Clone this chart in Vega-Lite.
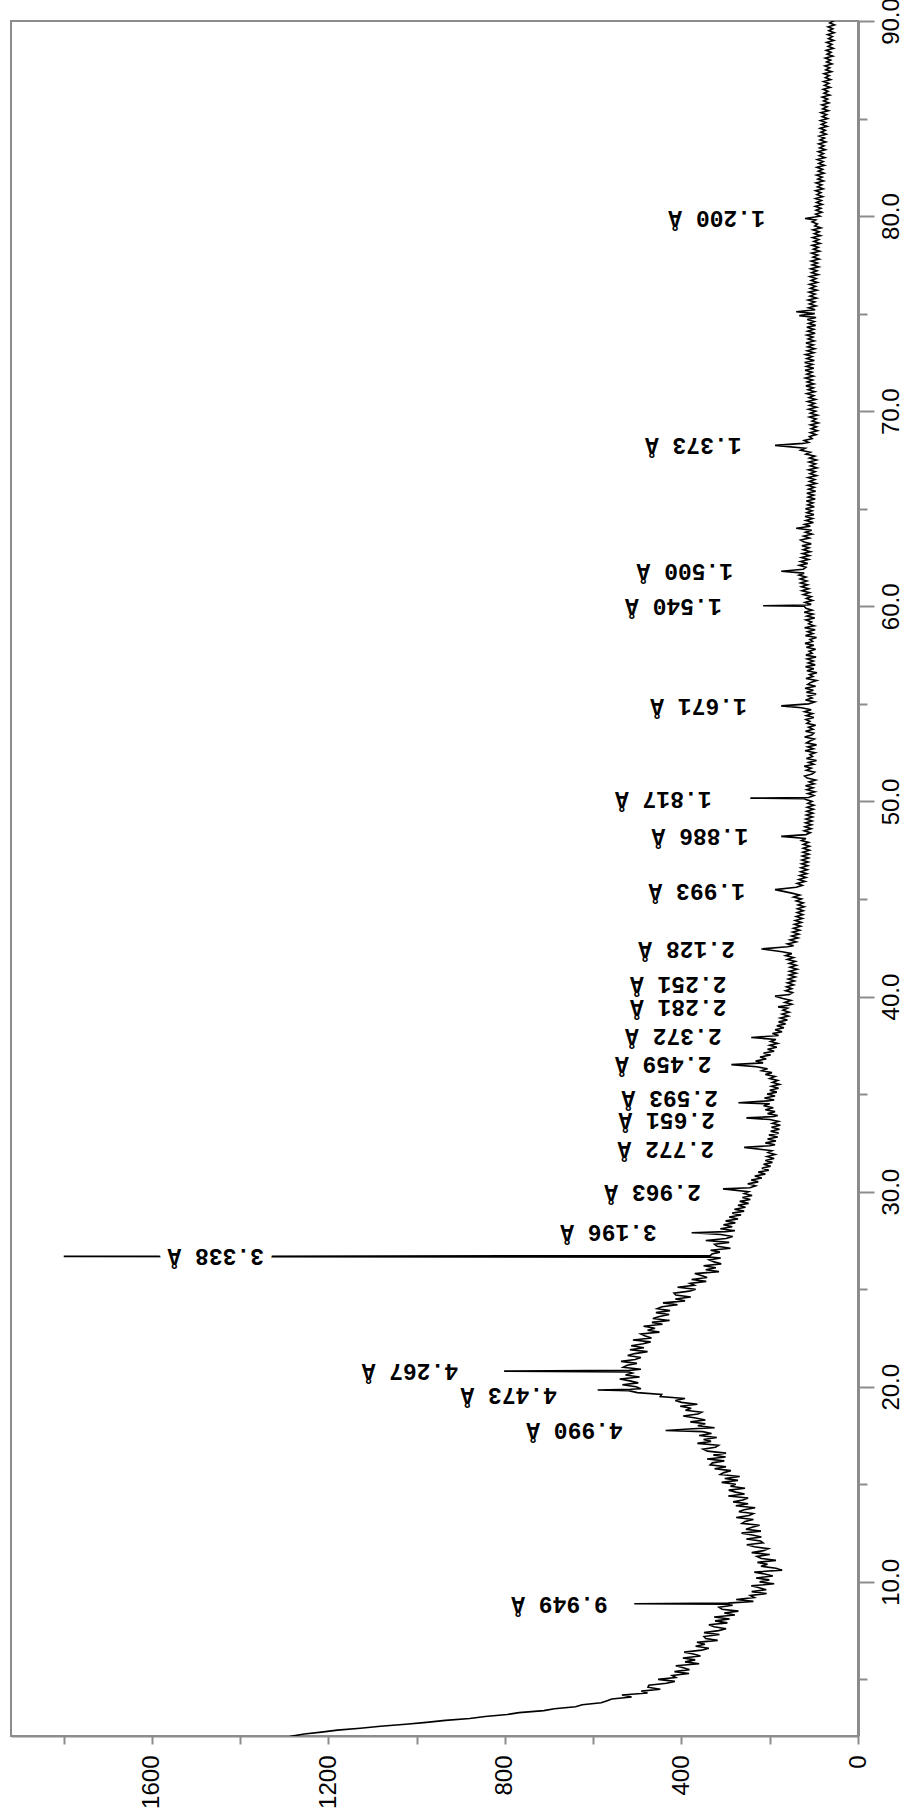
{
  "$schema": "https://vega.github.io/schema/vega-lite/v6.json",
  "width": 847,
  "height": 1715,
  "autosize": {"type": "none"},
  "padding": {"left": 11, "top": 21, "right": 53, "bottom": 78},
  "background": "white",
  "config": {
    "view": {"stroke": "#8c8c8c", "strokeWidth": 2},
    "axis": {"grid": false, "domainColor": "#8c8c8c", "tickColor": "#8c8c8c", "labelColor": "#000000", "labelFont": "Liberation Sans", "labelFontSize": 24, "title": null}
  },
  "datasets": {
    "scan": [
      {"t":2.0,"i":1300},{"t":2.1,"i":1282},{"t":2.2,"i":1255},{"t":2.3,"i":1216},{"t":2.4,"i":1180},{"t":2.5,"i":1128},{"t":2.6,"i":1082},{"t":2.7,"i":1025},{"t":2.8,"i":978},{"t":2.9,"i":935},
      {"t":3.0,"i":880},{"t":3.1,"i":845},{"t":3.2,"i":795},{"t":3.3,"i":768},{"t":3.4,"i":712},{"t":3.5,"i":688},{"t":3.6,"i":640},{"t":3.7,"i":625},{"t":3.8,"i":582},{"t":3.9,"i":570},
      {"t":4.0,"i":558},{"t":4.1,"i":513},{"t":4.2,"i":535},{"t":4.3,"i":477},{"t":4.4,"i":491},{"t":4.5,"i":448},{"t":4.6,"i":476},{"t":4.7,"i":474},{"t":4.8,"i":434},{"t":4.9,"i":415},
      {"t":5.0,"i":453},{"t":5.1,"i":413},{"t":5.2,"i":421},{"t":5.3,"i":383},{"t":5.4,"i":416},{"t":5.5,"i":382},{"t":5.6,"i":396},{"t":5.7,"i":413},{"t":5.8,"i":360},{"t":5.9,"i":392},
      {"t":6.0,"i":369},{"t":6.1,"i":397},{"t":6.2,"i":357},{"t":6.3,"i":373},{"t":6.4,"i":394},{"t":6.5,"i":354},{"t":6.6,"i":338},{"t":6.7,"i":368},{"t":6.8,"i":347},{"t":6.9,"i":365},
      {"t":7.0,"i":318},{"t":7.1,"i":345},{"t":7.2,"i":349},{"t":7.3,"i":314},{"t":7.4,"i":349},{"t":7.5,"i":316},{"t":7.6,"i":299},{"t":7.7,"i":326},{"t":7.8,"i":338},{"t":7.9,"i":296},
      {"t":8.0,"i":324},{"t":8.1,"i":291},{"t":8.2,"i":326},{"t":8.3,"i":279},{"t":8.4,"i":303},{"t":8.5,"i":271},{"t":8.6,"i":308},{"t":8.7,"i":315},{"t":8.8,"i":284},{"t":8.85,"i":300},
      {"t":8.88,"i":507},{"t":8.91,"i":295},{"t":9.0,"i":237},{"t":9.1,"i":276},{"t":9.2,"i":235},{"t":9.3,"i":244},{"t":9.4,"i":207},{"t":9.5,"i":241},{"t":9.6,"i":208},{"t":9.7,"i":224},
      {"t":9.8,"i":242},{"t":9.9,"i":190},{"t":10.0,"i":223},{"t":10.1,"i":201},{"t":10.2,"i":231},{"t":10.3,"i":193},{"t":10.4,"i":211},{"t":10.5,"i":235},{"t":10.6,"i":172},{"t":10.7,"i":186},
      {"t":10.8,"i":220},{"t":10.9,"i":205},{"t":11.0,"i":228},{"t":11.1,"i":186},{"t":11.2,"i":219},{"t":11.3,"i":229},{"t":11.4,"i":200},{"t":11.5,"i":241},{"t":11.6,"i":214},{"t":11.7,"i":203},
      {"t":11.8,"i":235},{"t":11.9,"i":252},{"t":12.0,"i":215},{"t":12.1,"i":221},{"t":12.2,"i":253},{"t":12.3,"i":219},{"t":12.4,"i":239},{"t":12.5,"i":264},{"t":12.6,"i":220},{"t":12.7,"i":254},
      {"t":12.8,"i":240},{"t":12.9,"i":223},{"t":13.0,"i":263},{"t":13.1,"i":256},{"t":13.2,"i":237},{"t":13.3,"i":276},{"t":13.4,"i":247},{"t":13.5,"i":237},{"t":13.6,"i":270},{"t":13.7,"i":258},
      {"t":13.8,"i":233},{"t":13.9,"i":277},{"t":14.0,"i":249},{"t":14.1,"i":283},{"t":14.2,"i":261},{"t":14.3,"i":249},{"t":14.4,"i":294},{"t":14.5,"i":257},{"t":14.6,"i":277},{"t":14.7,"i":293},
      {"t":14.8,"i":256},{"t":14.9,"i":289},{"t":15.0,"i":277},{"t":15.1,"i":309},{"t":15.2,"i":272},{"t":15.3,"i":302},{"t":15.4,"i":268},{"t":15.5,"i":312},{"t":15.6,"i":304},{"t":15.7,"i":288},
      {"t":15.8,"i":325},{"t":15.9,"i":299},{"t":16.0,"i":335},{"t":16.1,"i":330},{"t":16.2,"i":303},{"t":16.3,"i":342},{"t":16.4,"i":300},{"t":16.5,"i":328},{"t":16.6,"i":299},{"t":16.7,"i":341},
      {"t":16.8,"i":351},{"t":16.9,"i":323},{"t":17.0,"i":316},{"t":17.1,"i":364},{"t":17.2,"i":333},{"t":17.3,"i":350},{"t":17.4,"i":320},{"t":17.5,"i":360},{"t":17.6,"i":332},{"t":17.7,"i":352},
      {"t":17.76,"i":436},{"t":17.85,"i":374},{"t":17.9,"i":325},{"t":18.0,"i":363},{"t":18.1,"i":346},{"t":18.2,"i":380},{"t":18.3,"i":346},{"t":18.4,"i":368},{"t":18.5,"i":396},{"t":18.6,"i":363},
      {"t":18.7,"i":354},{"t":18.8,"i":391},{"t":18.9,"i":378},{"t":19.0,"i":403},{"t":19.1,"i":364},{"t":19.2,"i":400},{"t":19.3,"i":414},{"t":19.4,"i":392},{"t":19.5,"i":448},{"t":19.6,"i":445},
      {"t":19.7,"i":500},{"t":19.8,"i":520},{"t":19.83,"i":590},{"t":19.87,"i":515},{"t":19.9,"i":492},{"t":20.0,"i":503},{"t":20.1,"i":534},{"t":20.2,"i":498},{"t":20.3,"i":517},{"t":20.4,"i":540},
      {"t":20.5,"i":495},{"t":20.6,"i":527},{"t":20.7,"i":511},{"t":20.76,"i":520},{"t":20.8,"i":802},{"t":20.84,"i":518},{"t":20.9,"i":492},{"t":21.0,"i":532},{"t":21.1,"i":523},{"t":21.2,"i":501},
      {"t":21.3,"i":537},{"t":21.4,"i":505},{"t":21.5,"i":492},{"t":21.6,"i":522},{"t":21.7,"i":506},{"t":21.8,"i":477},{"t":21.9,"i":517},{"t":22.0,"i":485},{"t":22.1,"i":514},{"t":22.2,"i":487},
      {"t":22.3,"i":470},{"t":22.4,"i":510},{"t":22.5,"i":468},{"t":22.6,"i":482},{"t":22.7,"i":492},{"t":22.8,"i":450},{"t":22.9,"i":477},{"t":23.0,"i":460},{"t":23.1,"i":486},{"t":23.2,"i":443},
      {"t":23.3,"i":467},{"t":23.4,"i":427},{"t":23.5,"i":465},{"t":23.6,"i":450},{"t":23.7,"i":428},{"t":23.8,"i":458},{"t":23.9,"i":426},{"t":24.0,"i":455},{"t":24.1,"i":444},{"t":24.2,"i":409},
      {"t":24.3,"i":442},{"t":24.4,"i":392},{"t":24.5,"i":414},{"t":24.6,"i":379},{"t":24.7,"i":413},{"t":24.8,"i":417},{"t":24.9,"i":382},{"t":25.0,"i":368},{"t":25.1,"i":409},{"t":25.2,"i":371},
      {"t":25.3,"i":381},{"t":25.4,"i":344},{"t":25.5,"i":377},{"t":25.6,"i":342},{"t":25.7,"i":355},{"t":25.8,"i":370},{"t":25.9,"i":315},{"t":26.0,"i":345},{"t":26.1,"i":322},{"t":26.2,"i":350},
      {"t":26.3,"i":310},{"t":26.4,"i":326},{"t":26.5,"i":337},{"t":26.6,"i":311},{"t":26.64,"i":330},{"t":26.68,"i":1800},{"t":26.72,"i":335},{"t":26.8,"i":331},{"t":26.9,"i":313},{"t":27.0,"i":334},
      {"t":27.1,"i":289},{"t":27.2,"i":319},{"t":27.3,"i":325},{"t":27.4,"i":292},{"t":27.5,"i":345},{"t":27.6,"i":299},{"t":27.7,"i":284},{"t":27.8,"i":311},{"t":27.89,"i":377},{"t":27.95,"i":300},
      {"t":28.0,"i":279},{"t":28.1,"i":312},{"t":28.2,"i":285},{"t":28.3,"i":305},{"t":28.4,"i":278},{"t":28.5,"i":300},{"t":28.6,"i":272},{"t":28.7,"i":292},{"t":28.8,"i":265},{"t":28.9,"i":285},
      {"t":29.0,"i":258},{"t":29.1,"i":280},{"t":29.2,"i":255},{"t":29.3,"i":272},{"t":29.4,"i":248},{"t":29.5,"i":268},{"t":29.6,"i":244},{"t":29.7,"i":262},{"t":29.8,"i":240},{"t":29.9,"i":258},
      {"t":30.0,"i":248},{"t":30.14,"i":306},{"t":30.2,"i":245},{"t":30.3,"i":232},{"t":30.4,"i":250},{"t":30.5,"i":226},{"t":30.6,"i":242},{"t":30.7,"i":218},{"t":30.8,"i":234},{"t":30.9,"i":210},
      {"t":31.0,"i":226},{"t":31.1,"i":202},{"t":31.2,"i":218},{"t":31.3,"i":198},{"t":31.4,"i":214},{"t":31.5,"i":194},{"t":31.6,"i":210},{"t":31.7,"i":190},{"t":31.8,"i":206},{"t":31.9,"i":188},
      {"t":32.0,"i":204},{"t":32.1,"i":195},{"t":32.27,"i":258},{"t":32.35,"i":200},{"t":32.4,"i":188},{"t":32.5,"i":210},{"t":32.6,"i":186},{"t":32.7,"i":205},{"t":32.8,"i":182},{"t":32.9,"i":202},
      {"t":33.0,"i":180},{"t":33.1,"i":198},{"t":33.2,"i":178},{"t":33.3,"i":196},{"t":33.4,"i":176},{"t":33.5,"i":194},{"t":33.6,"i":180},{"t":33.7,"i":200},{"t":33.78,"i":253},{"t":33.85,"i":190},
      {"t":33.9,"i":182},{"t":34.0,"i":205},{"t":34.1,"i":188},{"t":34.2,"i":210},{"t":34.3,"i":192},{"t":34.4,"i":214},{"t":34.5,"i":200},{"t":34.56,"i":271},{"t":34.65,"i":205},{"t":34.7,"i":190},
      {"t":34.8,"i":212},{"t":34.9,"i":188},{"t":35.0,"i":206},{"t":35.1,"i":184},{"t":35.2,"i":200},{"t":35.3,"i":180},{"t":35.4,"i":196},{"t":35.5,"i":178},{"t":35.6,"i":194},{"t":35.7,"i":182},
      {"t":35.8,"i":200},{"t":35.9,"i":188},{"t":36.0,"i":210},{"t":36.1,"i":195},{"t":36.2,"i":218},{"t":36.3,"i":205},{"t":36.4,"i":230},{"t":36.51,"i":287},{"t":36.6,"i":215},{"t":36.7,"i":232},
      {"t":36.8,"i":208},{"t":36.9,"i":222},{"t":37.0,"i":198},{"t":37.1,"i":214},{"t":37.2,"i":190},{"t":37.3,"i":205},{"t":37.4,"i":184},{"t":37.5,"i":200},{"t":37.6,"i":182},{"t":37.7,"i":198},
      {"t":37.8,"i":186},{"t":37.9,"i":242},{"t":38.0,"i":180},{"t":38.1,"i":194},{"t":38.2,"i":172},{"t":38.3,"i":188},{"t":38.4,"i":168},{"t":38.5,"i":184},{"t":38.6,"i":164},{"t":38.7,"i":180},
      {"t":38.8,"i":160},{"t":38.9,"i":176},{"t":39.0,"i":158},{"t":39.1,"i":172},{"t":39.2,"i":156},{"t":39.3,"i":170},{"t":39.4,"i":160},{"t":39.47,"i":181},{"t":39.55,"i":158},{"t":39.6,"i":150},
      {"t":39.7,"i":166},{"t":39.8,"i":152},{"t":39.9,"i":170},{"t":40.02,"i":188},{"t":40.1,"i":155},{"t":40.2,"i":148},{"t":40.3,"i":164},{"t":40.4,"i":150},{"t":40.5,"i":162},{"t":40.6,"i":146},
      {"t":40.7,"i":160},{"t":40.8,"i":144},{"t":40.9,"i":158},{"t":41.0,"i":142},{"t":41.1,"i":156},{"t":41.2,"i":140},{"t":41.3,"i":155},{"t":41.4,"i":138},{"t":41.5,"i":154},{"t":41.6,"i":140},
      {"t":41.7,"i":156},{"t":41.8,"i":142},{"t":41.9,"i":160},{"t":42.0,"i":146},{"t":42.1,"i":164},{"t":42.2,"i":150},{"t":42.3,"i":172},{"t":42.44,"i":219},{"t":42.55,"i":160},{"t":42.6,"i":146},
      {"t":42.7,"i":160},{"t":42.8,"i":140},{"t":42.9,"i":154},{"t":43.0,"i":136},{"t":43.1,"i":150},{"t":43.2,"i":134},{"t":43.3,"i":148},{"t":43.4,"i":132},{"t":43.5,"i":146},{"t":43.6,"i":130},
      {"t":43.7,"i":144},{"t":43.8,"i":128},{"t":43.9,"i":142},{"t":44.0,"i":126},{"t":44.1,"i":140},{"t":44.2,"i":125},{"t":44.3,"i":138},{"t":44.4,"i":124},{"t":44.5,"i":137},{"t":44.6,"i":122},
      {"t":44.7,"i":136},{"t":44.8,"i":124},{"t":44.9,"i":140},{"t":45.0,"i":128},{"t":45.1,"i":146},{"t":45.2,"i":132},{"t":45.3,"i":150},{"t":45.48,"i":188},{"t":45.6,"i":140},{"t":45.7,"i":126},
      {"t":45.8,"i":138},{"t":45.9,"i":120},{"t":46.0,"i":134},{"t":46.1,"i":118},{"t":46.2,"i":132},{"t":46.3,"i":116},{"t":46.4,"i":130},{"t":46.5,"i":115},{"t":46.6,"i":129},{"t":46.7,"i":114},
      {"t":46.8,"i":128},{"t":46.9,"i":113},{"t":47.0,"i":127},{"t":47.1,"i":112},{"t":47.2,"i":126},{"t":47.3,"i":111},{"t":47.4,"i":125},{"t":47.5,"i":110},{"t":47.6,"i":124},{"t":47.7,"i":110},
      {"t":47.8,"i":124},{"t":47.9,"i":112},{"t":48.0,"i":128},{"t":48.1,"i":118},{"t":48.21,"i":174},{"t":48.3,"i":118},{"t":48.4,"i":108},{"t":48.5,"i":122},{"t":48.6,"i":106},{"t":48.7,"i":120},
      {"t":48.8,"i":105},{"t":48.9,"i":119},{"t":49.0,"i":104},{"t":49.1,"i":118},{"t":49.2,"i":103},{"t":49.3,"i":117},{"t":49.4,"i":102},{"t":49.5,"i":116},{"t":49.6,"i":101},{"t":49.7,"i":115},
      {"t":49.8,"i":100},{"t":49.9,"i":114},{"t":50.0,"i":104},{"t":50.1,"i":118},{"t":50.14,"i":122},{"t":50.17,"i":244},{"t":50.2,"i":112},{"t":50.3,"i":100},{"t":50.4,"i":114},{"t":50.5,"i":98},
      {"t":50.6,"i":116},{"t":50.7,"i":102},{"t":50.8,"i":119},{"t":50.9,"i":99},{"t":51.0,"i":111},{"t":51.1,"i":96},{"t":51.2,"i":115},{"t":51.3,"i":121},{"t":51.4,"i":104},{"t":51.5,"i":98},
      {"t":51.6,"i":117},{"t":51.7,"i":106},{"t":51.8,"i":122},{"t":51.9,"i":100},{"t":52.0,"i":112},{"t":52.1,"i":94},{"t":52.2,"i":117},{"t":52.3,"i":103},{"t":52.4,"i":109},{"t":52.5,"i":97},
      {"t":52.6,"i":120},{"t":52.7,"i":101},{"t":52.8,"i":114},{"t":52.9,"i":94},{"t":53.0,"i":117},{"t":53.1,"i":109},{"t":53.2,"i":99},{"t":53.3,"i":121},{"t":53.4,"i":105},{"t":53.5,"i":100},
      {"t":53.6,"i":119},{"t":53.7,"i":102},{"t":53.8,"i":112},{"t":53.9,"i":96},{"t":54.0,"i":116},{"t":54.1,"i":109},{"t":54.2,"i":118},{"t":54.3,"i":100},{"t":54.4,"i":117},{"t":54.5,"i":103},
      {"t":54.6,"i":121},{"t":54.7,"i":106},{"t":54.8,"i":128},{"t":54.9,"i":174},{"t":55.0,"i":112},{"t":55.1,"i":98},{"t":55.2,"i":119},{"t":55.3,"i":104},{"t":55.4,"i":113},{"t":55.5,"i":95},
      {"t":55.6,"i":117},{"t":55.7,"i":101},{"t":55.8,"i":120},{"t":55.9,"i":96},{"t":56.0,"i":114},{"t":56.1,"i":107},{"t":56.2,"i":94},{"t":56.3,"i":118},{"t":56.4,"i":102},{"t":56.5,"i":110},
      {"t":56.6,"i":93},{"t":56.7,"i":116},{"t":56.8,"i":100},{"t":56.9,"i":119},{"t":57.0,"i":97},{"t":57.1,"i":113},{"t":57.2,"i":101},{"t":57.3,"i":115},{"t":57.4,"i":95},{"t":57.5,"i":118},
      {"t":57.6,"i":104},{"t":57.7,"i":111},{"t":57.8,"i":96},{"t":57.9,"i":117},{"t":58.0,"i":100},{"t":58.1,"i":120},{"t":58.2,"i":103},{"t":58.3,"i":109},{"t":58.4,"i":94},{"t":58.5,"i":119},
      {"t":58.6,"i":102},{"t":58.7,"i":114},{"t":58.8,"i":97},{"t":58.9,"i":121},{"t":59.0,"i":99},{"t":59.1,"i":112},{"t":59.2,"i":105},{"t":59.3,"i":118},{"t":59.4,"i":98},{"t":59.5,"i":116},
      {"t":59.6,"i":102},{"t":59.7,"i":122},{"t":59.8,"i":104},{"t":59.9,"i":118},{"t":60.0,"i":122},{"t":60.03,"i":215},{"t":60.07,"i":115},{"t":60.1,"i":106},{"t":60.2,"i":120},{"t":60.3,"i":103},
      {"t":60.4,"i":117},{"t":60.5,"i":106},{"t":60.6,"i":124},{"t":60.7,"i":110},{"t":60.8,"i":127},{"t":60.9,"i":112},{"t":61.0,"i":128},{"t":61.1,"i":114},{"t":61.2,"i":130},{"t":61.3,"i":116},
      {"t":61.4,"i":131},{"t":61.5,"i":118},{"t":61.6,"i":134},{"t":61.7,"i":122},{"t":61.8,"i":174},{"t":61.9,"i":124},{"t":62.0,"i":118},{"t":62.1,"i":133},{"t":62.2,"i":114},{"t":62.3,"i":130},
      {"t":62.4,"i":112},{"t":62.5,"i":128},{"t":62.6,"i":110},{"t":62.7,"i":126},{"t":62.8,"i":108},{"t":62.9,"i":124},{"t":63.0,"i":111},{"t":63.1,"i":127},{"t":63.2,"i":106},{"t":63.3,"i":122},
      {"t":63.4,"i":130},{"t":63.5,"i":110},{"t":63.6,"i":123},{"t":63.7,"i":104},{"t":63.8,"i":119},{"t":63.9,"i":105},{"t":64.0,"i":140},{"t":64.1,"i":108},{"t":64.2,"i":121},{"t":64.3,"i":101},
      {"t":64.4,"i":118},{"t":64.5,"i":103},{"t":64.6,"i":120},{"t":64.7,"i":100},{"t":64.8,"i":116},{"t":64.9,"i":104},{"t":65.0,"i":119},{"t":65.1,"i":99},{"t":65.2,"i":114},{"t":65.3,"i":102},
      {"t":65.4,"i":117},{"t":65.5,"i":97},{"t":65.6,"i":113},{"t":65.7,"i":100},{"t":65.8,"i":116},{"t":65.9,"i":96},{"t":66.0,"i":112},{"t":66.1,"i":99},{"t":66.2,"i":114},{"t":66.3,"i":95},
      {"t":66.4,"i":110},{"t":66.5,"i":98},{"t":66.6,"i":113},{"t":66.7,"i":94},{"t":66.8,"i":109},{"t":66.9,"i":97},{"t":67.0,"i":112},{"t":67.1,"i":93},{"t":67.2,"i":108},{"t":67.3,"i":96},
      {"t":67.4,"i":111},{"t":67.5,"i":94},{"t":67.6,"i":110},{"t":67.7,"i":98},{"t":67.8,"i":118},{"t":67.9,"i":108},{"t":68.0,"i":130},{"t":68.1,"i":120},{"t":68.25,"i":188},{"t":68.35,"i":125},
      {"t":68.4,"i":112},{"t":68.5,"i":122},{"t":68.6,"i":104},{"t":68.7,"i":110},{"t":68.8,"i":95},{"t":68.9,"i":108},{"t":69.0,"i":92},{"t":69.1,"i":106},{"t":69.2,"i":94},{"t":69.3,"i":108},
      {"t":69.4,"i":90},{"t":69.5,"i":104},{"t":69.6,"i":95},{"t":69.7,"i":110},{"t":69.8,"i":92},{"t":69.9,"i":108},{"t":70.0,"i":96},{"t":70.1,"i":112},{"t":70.2,"i":94},{"t":70.3,"i":110},
      {"t":70.4,"i":98},{"t":70.5,"i":114},{"t":70.6,"i":96},{"t":70.7,"i":111},{"t":70.8,"i":100},{"t":70.9,"i":116},{"t":71.0,"i":98},{"t":71.1,"i":113},{"t":71.2,"i":101},{"t":71.3,"i":118},
      {"t":71.4,"i":100},{"t":71.5,"i":115},{"t":71.6,"i":103},{"t":71.7,"i":119},{"t":71.8,"i":101},{"t":71.9,"i":116},{"t":72.0,"i":104},{"t":72.1,"i":120},{"t":72.2,"i":100},{"t":72.3,"i":117},
      {"t":72.4,"i":103},{"t":72.5,"i":121},{"t":72.6,"i":99},{"t":72.7,"i":116},{"t":72.8,"i":104},{"t":72.9,"i":119},{"t":73.0,"i":100},{"t":73.1,"i":115},{"t":73.2,"i":98},{"t":73.3,"i":114},
      {"t":73.4,"i":101},{"t":73.5,"i":118},{"t":73.6,"i":99},{"t":73.7,"i":113},{"t":73.8,"i":102},{"t":73.9,"i":116},{"t":74.0,"i":97},{"t":74.1,"i":114},{"t":74.2,"i":100},{"t":74.3,"i":116},
      {"t":74.4,"i":96},{"t":74.5,"i":112},{"t":74.6,"i":99},{"t":74.7,"i":115},{"t":74.8,"i":95},{"t":74.9,"i":133},{"t":75.0,"i":98},{"t":75.1,"i":140},{"t":75.2,"i":97},{"t":75.3,"i":112},
      {"t":75.4,"i":95},{"t":75.5,"i":110},{"t":75.6,"i":98},{"t":75.7,"i":113},{"t":75.8,"i":94},{"t":75.9,"i":109},{"t":76.0,"i":97},{"t":76.1,"i":111},{"t":76.2,"i":93},{"t":76.3,"i":108},
      {"t":76.4,"i":96},{"t":76.5,"i":110},{"t":76.6,"i":92},{"t":76.7,"i":106},{"t":76.8,"i":95},{"t":76.9,"i":109},{"t":77.0,"i":90},{"t":77.1,"i":105},{"t":77.2,"i":93},{"t":77.3,"i":107},
      {"t":77.4,"i":89},{"t":77.5,"i":104},{"t":77.6,"i":92},{"t":77.7,"i":106},{"t":77.8,"i":88},{"t":77.9,"i":102},{"t":78.0,"i":91},{"t":78.1,"i":105},{"t":78.2,"i":87},{"t":78.3,"i":101},
      {"t":78.4,"i":90},{"t":78.5,"i":104},{"t":78.6,"i":86},{"t":78.7,"i":100},{"t":78.8,"i":89},{"t":78.9,"i":103},{"t":79.0,"i":85},{"t":79.1,"i":99},{"t":79.2,"i":88},{"t":79.3,"i":102},
      {"t":79.4,"i":84},{"t":79.5,"i":98},{"t":79.6,"i":92},{"t":79.7,"i":104},{"t":79.8,"i":96},{"t":79.88,"i":120},{"t":79.95,"i":98},{"t":80.0,"i":86},{"t":80.1,"i":96},{"t":80.2,"i":82},
      {"t":80.3,"i":95},{"t":80.4,"i":84},{"t":80.5,"i":97},{"t":80.6,"i":81},{"t":80.7,"i":94},{"t":80.8,"i":83},{"t":80.9,"i":96},{"t":81.0,"i":80},{"t":81.1,"i":93},{"t":81.2,"i":84},
      {"t":81.3,"i":96},{"t":81.4,"i":79},{"t":81.5,"i":92},{"t":81.6,"i":82},{"t":81.7,"i":95},{"t":81.8,"i":78},{"t":81.9,"i":91},{"t":82.0,"i":81},{"t":82.1,"i":94},{"t":82.2,"i":77},
      {"t":82.3,"i":90},{"t":82.4,"i":80},{"t":82.5,"i":93},{"t":82.6,"i":76},{"t":82.7,"i":89},{"t":82.8,"i":79},{"t":82.9,"i":92},{"t":83.0,"i":75},{"t":83.1,"i":88},{"t":83.2,"i":78},
      {"t":83.3,"i":90},{"t":83.4,"i":74},{"t":83.5,"i":87},{"t":83.6,"i":77},{"t":83.7,"i":89},{"t":83.8,"i":73},{"t":83.9,"i":86},{"t":84.0,"i":76},{"t":84.1,"i":88},{"t":84.2,"i":72},
      {"t":84.3,"i":84},{"t":84.4,"i":74},{"t":84.5,"i":86},{"t":84.6,"i":70},{"t":84.7,"i":83},{"t":84.8,"i":73},{"t":84.9,"i":85},{"t":85.0,"i":69},{"t":85.1,"i":81},{"t":85.2,"i":71},
      {"t":85.3,"i":84},{"t":85.4,"i":67},{"t":85.5,"i":80},{"t":85.6,"i":70},{"t":85.7,"i":82},{"t":85.8,"i":66},{"t":85.9,"i":78},{"t":86.0,"i":69},{"t":86.1,"i":81},{"t":86.2,"i":64},
      {"t":86.3,"i":77},{"t":86.4,"i":68},{"t":86.5,"i":79},{"t":86.6,"i":63},{"t":86.7,"i":76},{"t":86.8,"i":66},{"t":86.9,"i":78},{"t":87.0,"i":62},{"t":87.1,"i":74},{"t":87.2,"i":65},
      {"t":87.3,"i":77},{"t":87.4,"i":60},{"t":87.5,"i":73},{"t":87.6,"i":64},{"t":87.7,"i":75},{"t":87.8,"i":59},{"t":87.9,"i":71},{"t":88.0,"i":62},{"t":88.1,"i":74},{"t":88.2,"i":57},
      {"t":88.3,"i":70},{"t":88.4,"i":61},{"t":88.5,"i":72},{"t":88.6,"i":56},{"t":88.7,"i":68},{"t":88.8,"i":59},{"t":88.9,"i":71},{"t":89.0,"i":55},{"t":89.1,"i":67},{"t":89.2,"i":58},
      {"t":89.3,"i":69},{"t":89.4,"i":54},{"t":89.5,"i":66},{"t":89.6,"i":57},{"t":89.7,"i":68},{"t":89.8,"i":53},{"t":89.9,"i":64},{"t":90.0,"i":56},{"t":90.1,"i":63}
    ],
    "peaks": [
      {"d":9.949,"t":8.88,"h":567},{"d":4.990,"t":17.76,"h":533},{"d":4.473,"t":19.6,"h":682},{"d":4.267,"t":20.8,"h":906},
      {"d":3.338,"t":26.68,"h":1346},{"d":3.196,"t":27.92,"h":456},{"d":2.963,"t":30.0,"h":356},{"d":2.772,"t":32.2,"h":326},
      {"d":2.651,"t":33.65,"h":324},{"d":2.593,"t":34.8,"h":317},{"d":2.459,"t":36.55,"h":332},{"d":2.372,"t":37.98,"h":309},
      {"d":2.281,"t":39.47,"h":298},{"d":2.251,"t":40.65,"h":298},{"d":2.128,"t":42.44,"h":279},{"d":1.993,"t":45.4,"h":256},
      {"d":1.886,"t":48.21,"h":249},{"d":1.817,"t":50.1,"h":332},{"d":1.671,"t":54.9,"h":252},{"d":1.540,"t":60.03,"h":309},
      {"d":1.500,"t":61.8,"h":283},{"d":1.373,"t":68.25,"h":264},{"d":1.200,"t":79.88,"h":211}
    ]
  },
  "layer": [
    {
      "data": {"name": "scan"},
      "mark": {"type": "line", "color": "#000000", "strokeWidth": 1.6, "clip": true},
      "encoding": {
        "x": {
          "field": "i", "type": "quantitative",
          "scale": {"domain": [0, 1919.5], "reverse": true, "nice": false, "zero": false},
          "axis": {
            "orient": "bottom",
            "values": [0, 200, 400, 600, 800, 1000, 1200, 1400, 1600, 1800],
            "format": "d",
            "labelExpr": "datum.value % 400 === 0 ? datum.label : ''",
            "labelAngle": 270, "labelAlign": "right", "labelBaseline": "middle",
            "tickSize": 8, "tickWidth": 2, "labelPadding": 11,
            "domainWidth": 2, "labelFlush": false, "labelOverlap": false, "labelBound": false
          }
        },
        "y": {
          "field": "t", "type": "quantitative",
          "scale": {"domain": [2.1, 90], "nice": false, "zero": false},
          "axis": {
            "orient": "right",
            "values": [5, 10, 15, 20, 25, 30, 35, 40, 45, 50, 55, 60, 65, 70, 75, 80, 85, 90],
            "format": ".1f",
            "labelExpr": "datum.value % 10 === 0 ? datum.label : ''",
            "labelAngle": 270, "labelAlign": "center", "labelBaseline": "top",
            "tickSize": {"condition": {"test": "datum.value % 10 === 0", "value": 16}, "value": 9},
            "tickWidth": 2, "labelPadding": 5,
            "domainWidth": 3, "labelFlush": false, "labelOverlap": false, "labelBound": false
          }
        },
        "order": {"field": "t", "type": "quantitative"}
      }
    },
    {
      "data": {"name": "peaks"},
      "transform": [{"calculate": "format(datum.d, '.3f') + ' Å'", "as": "label"}],
      "mark": {"type": "text", "angle": 180, "align": "left", "baseline": "middle", "font": "Liberation Mono", "fontSize": 23, "fontWeight": "bold", "fill": "#ffffff", "stroke": "#ffffff", "strokeWidth": 18, "strokeJoin": "round"},
      "encoding": {
        "x": {"field": "h", "type": "quantitative"},
        "y": {"field": "t", "type": "quantitative"},
        "text": {"field": "label"}
      }
    },
    {
      "data": {"name": "peaks"},
      "transform": [{"calculate": "format(datum.d, '.3f') + ' Å'", "as": "label"}],
      "mark": {"type": "text", "angle": 180, "align": "left", "baseline": "middle", "font": "Liberation Mono", "fontSize": 23, "fontWeight": "bold", "fill": "#000000"},
      "encoding": {
        "x": {"field": "h", "type": "quantitative"},
        "y": {"field": "t", "type": "quantitative"},
        "text": {"field": "label"}
      }
    }
  ]
}
